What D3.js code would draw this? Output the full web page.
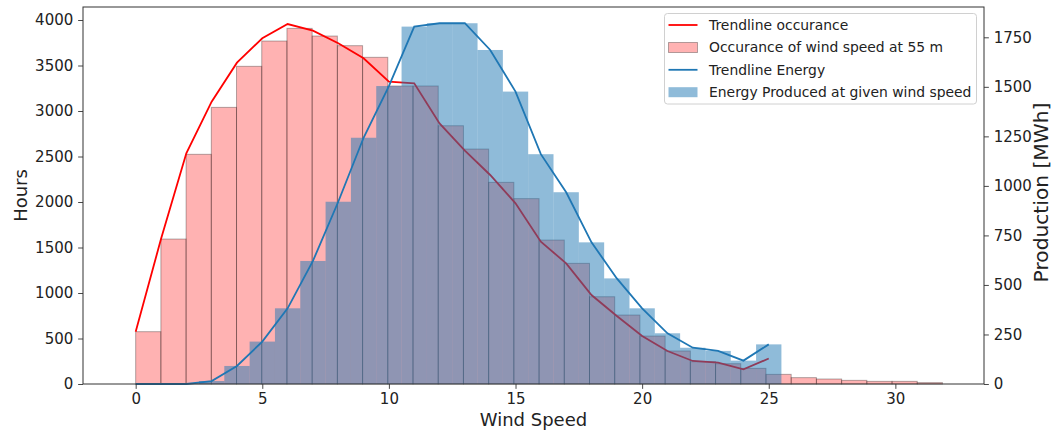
<!DOCTYPE html>
<html>
<head>
<meta charset="utf-8">
<script src="https://cdn.jsdelivr.net/npm/d3@7"></script>
<style>
  body { margin: 0; background: #fff; }
  svg { display: block; font-family: "DejaVu Sans", sans-serif; }
</style>
</head>
<body>
<svg id="chart" width="1053" height="432"></svg>
<script>
// ---- data ----
const occurrenceBinEdgeMax = 31.86;       // histogram spans 0 .. 31.86 in 32 bins
const occurrenceHours = [575, 1593, 2524, 3040, 3491, 3769, 3908, 3824, 3718, 3590, 3275, 3275,
  2838, 2582, 2216, 2037, 1582, 1326, 959, 758, 527, 363, 245, 223, 172, 106, 70, 55, 40, 29, 29, 15];
const trendSpeeds = d3.range(0, 26);
const trendOccurrence = [575, 1593, 2535, 3102, 3531, 3799, 3956, 3883, 3744, 3579, 3322, 3304,
  2864, 2564, 2297, 1986, 1564, 1326, 978, 747, 527, 363, 253, 234, 161, 280];
const energySpeeds = d3.range(0, 26);
const energyMWh = [0, 0, 0, 15, 91, 214, 382, 621, 920, 1243, 1504, 1804, 1821, 1821, 1686, 1476,
  1160, 968, 715, 533, 382, 256, 183, 167, 118, 200];
const xTicks = [0, 5, 10, 15, 20, 25, 30];
const leftTicks = [0, 500, 1000, 1500, 2000, 2500, 3000, 3500, 4000];
const rightTicks = [0, 250, 500, 750, 1000, 1250, 1500, 1750];
const legendLabels = ["Trendline occurance", "Occurance of wind speed at 55 m", "Trendline Energy", "Energy Produced at given wind speed"];

// ---- layout ----
const L = 83, R = 984, T = 7, B = 384;
const svg = d3.select("#chart");
const x = d3.scaleLinear().domain([-2.08, 33.5]).range([L, R]);
const yL = d3.scaleLinear().domain([0, 4143]).range([B, T]);
const yR = d3.scaleLinear().domain([0, 1903]).range([B, T]);
const binW = occurrenceBinEdgeMax / occurrenceHours.length;

const redFill = "rgba(255,0,0,0.3)";
const blueFill = "rgba(31,119,180,0.5)";
const blueLine = "#1f77b4";

// red histogram
svg.append("g").selectAll("rect").data(occurrenceHours).join("rect")
  .attr("x", (d, i) => x(i * binW))
  .attr("width", (d, i) => x((i + 1) * binW) - x(i * binW))
  .attr("y", d => yL(d))
  .attr("height", d => B - yL(d))
  .attr("fill", redFill)
  .attr("stroke", "rgba(0,0,0,0.3)")
  .attr("stroke-width", 1);

// red trendline
svg.append("path")
  .datum(trendSpeeds.map((s, i) => [s, trendOccurrence[i]]))
  .attr("fill", "none").attr("stroke", "#ff0000").attr("stroke-width", 1.8)
  .attr("d", d3.line().x(d => x(d[0])).y(d => yL(d[1])));

// blue bars
svg.append("g").selectAll("rect").data(energyMWh).join("rect")
  .attr("x", (d, i) => x(energySpeeds[i] - 0.5))
  .attr("width", (d, i) => x(energySpeeds[i] + 0.5) - x(energySpeeds[i] - 0.5))
  .attr("y", d => yR(d))
  .attr("height", d => B - yR(d))
  .attr("fill", blueFill);

// blue trendline
svg.append("path")
  .datum(energySpeeds.map((s, i) => [s, energyMWh[i]]))
  .attr("fill", "none").attr("stroke", blueLine).attr("stroke-width", 1.8)
  .attr("d", d3.line().x(d => x(d[0])).y(d => yR(d[1])));

// axes
const tickLen = 4.86, pad = 4.86, tickFont = "15px";
const gx = svg.append("g").attr("transform", `translate(0,${B})`)
  .call(d3.axisBottom(x).tickValues(xTicks).tickSize(tickLen).tickPadding(pad).tickSizeOuter(0));
const gl = svg.append("g").attr("transform", `translate(${L},0)`)
  .call(d3.axisLeft(yL).tickValues(leftTicks).tickSize(tickLen).tickPadding(pad).tickSizeOuter(0).tickFormat(d3.format("d")));
const gr = svg.append("g").attr("transform", `translate(${R},0)`)
  .call(d3.axisRight(yR).tickValues(rightTicks).tickSize(tickLen).tickPadding(pad).tickSizeOuter(0).tickFormat(d3.format("d")));
[gx, gl, gr].forEach(g => {
  g.select(".domain").remove();
  g.selectAll("line").attr("stroke", "#333").attr("stroke-width", 0.9);
  g.selectAll("text").attr("font-size", tickFont).attr("fill", "#222").attr("font-family", "DejaVu Sans");
});

// spines
svg.append("rect").attr("x", L).attr("y", T).attr("width", R - L).attr("height", B - T)
  .attr("fill", "none").attr("stroke", "#333").attr("stroke-width", 1);

// axis labels
svg.append("text").attr("x", (L + R) / 2).attr("y", 426).attr("text-anchor", "middle")
  .attr("font-size", "18px").attr("fill", "#222").text("Wind Speed");
svg.append("text").attr("transform", `translate(27,${(T + B) / 2}) rotate(-90)`).attr("text-anchor", "middle")
  .attr("font-size", "18px").attr("fill", "#222").text("Hours");
svg.append("text").attr("transform", `translate(1047.5,${(T + B) / 2 - 3}) rotate(-90)`).attr("text-anchor", "middle")
  .attr("font-size", "20.2px").attr("fill", "#222").text("Production [MWh]");

// legend
const lg = svg.append("g");
lg.append("rect").attr("x", 664.5).attr("y", 13.5).attr("width", 312).attr("height", 90.5)
  .attr("rx", 3).attr("fill", "rgba(255,255,255,0.8)").attr("stroke", "#d0d0d0").attr("stroke-width", 1);
const rowsY = [25, 47.5, 69.8, 92.2];
const hx0 = 668.5, hx1 = 697.5;
lg.append("line").attr("x1", hx0).attr("x2", hx1).attr("y1", rowsY[0]).attr("y2", rowsY[0])
  .attr("stroke", "#ff0000").attr("stroke-width", 1.8);
lg.append("rect").attr("x", hx0).attr("y", rowsY[1] - 5).attr("width", hx1 - hx0).attr("height", 10)
  .attr("fill", redFill).attr("stroke", "rgba(0,0,0,0.3)").attr("stroke-width", 1);
lg.append("line").attr("x1", hx0).attr("x2", hx1).attr("y1", rowsY[2]).attr("y2", rowsY[2])
  .attr("stroke", blueLine).attr("stroke-width", 1.8);
lg.append("rect").attr("x", hx0).attr("y", rowsY[3] - 5).attr("width", hx1 - hx0).attr("height", 10)
  .attr("fill", blueFill);
lg.selectAll("text.lab").data(legendLabels).join("text").attr("class", "lab")
  .attr("x", 709).attr("y", (d, i) => rowsY[i]).attr("dy", "0.35em")
  .attr("font-size", "13.9px").attr("fill", "#222").text(d => d);
</script>
</body>
</html>
